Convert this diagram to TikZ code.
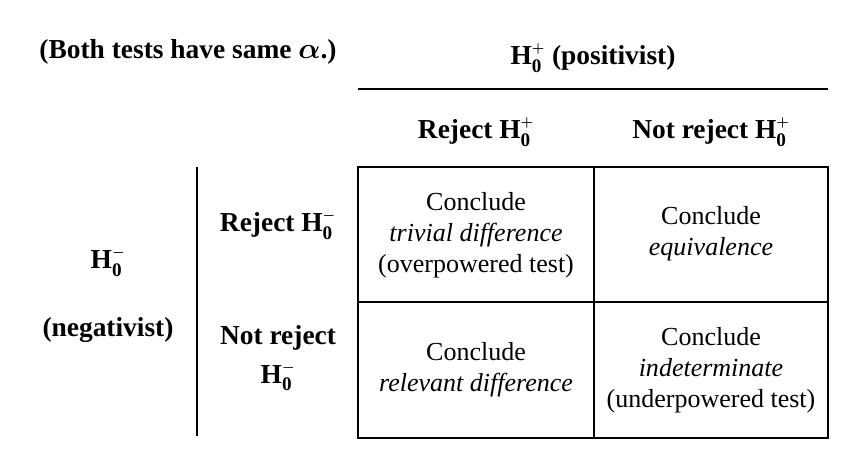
\documentclass[tikz,border=0pt]{standalone}
\usepackage{fontspec}
\setmainfont{Liberation Serif}
\usetikzlibrary{positioning}
\usepackage{amsmath}
\newcommand{\Hp}{\textbf{H}$_{\mathbf{0}}^{\scriptscriptstyle\boldsymbol{+}}$}
\newcommand{\Hm}{\textbf{H}$_{\mathbf{0}}^{\scriptscriptstyle\boldsymbol{-}}$}
\begin{document}
\begin{tikzpicture}[
  x=0.025cm, y=-0.025cm,
  font=\fontsize{18.5}{22}\selectfont,
  head/.style={font=\fontsize{19.5}{28}\selectfont\bfseries, align=center},
  cell/.style={align=center},
  rule/.style={line width=1.3pt}
]
\useasboundingbox (0,0) rectangle (860,470);

% headings
\node[head] (note) at (188,52) {(Both tests have same $\boldsymbol{\alpha}$.)};
\node[head] (pos) at (593,58) {\Hp\ (positivist)};
\node[head] (crp) at (476,132) {Reject \Hp};
\node[head] (cnp) at (711,132) {Not reject \Hp};
\node[head] (rrm) at (278,225) {Reject \Hm};
\node[head] (rnm) at (278,358) {Not reject\\\Hm};
\node[head] (neg) at (108,262) {\Hm};
\node[head] (negl) at (108,330) {(negativist)};

% rules
\draw[rule] (358,89) -- (828,89);
\draw[rule] (197,167) -- (197,436);
\draw[rule] (358,167) rectangle (828,438);
\draw[rule] (594,167) -- (594,438);
\draw[rule] (358,302) -- (828,302);

% cells
\node[cell] (c11) at (476,235) {Conclude\\\textit{trivial difference}\\(overpowered test)};
\node[cell] (c12) at (711,234) {Conclude\\\textit{equivalence}};
\node[cell] (c21) at (476,370) {Conclude\\\textit{relevant difference}};
\node[cell] (c22) at (711,370) {Conclude\\\textit{indeterminate}\\(underpowered test)};
\end{tikzpicture}
\end{document}
